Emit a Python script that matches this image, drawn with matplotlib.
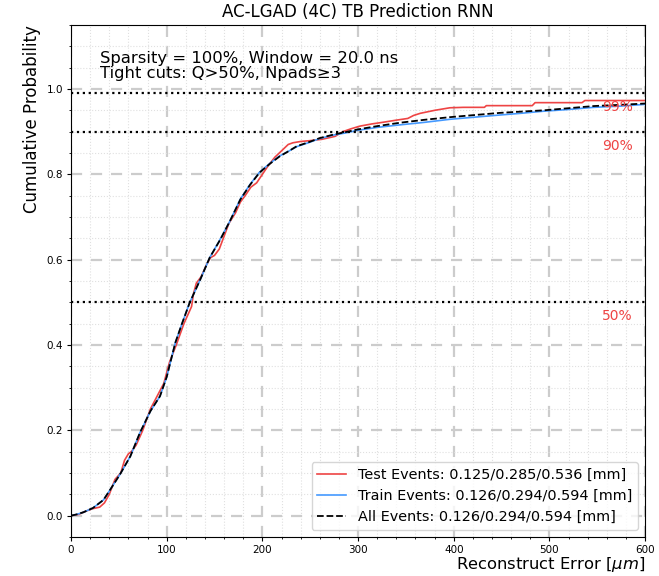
# CDF of reconstruction error, AC-LGAD (4C) test beam, RNN prediction
import matplotlib
matplotlib.use('Agg')
import matplotlib.pyplot as plt
import numpy as np

# Values (error in um, cumulative probability)
all_x = [0, 6, 13, 23, 34, 41, 51, 62, 72, 83, 93, 100, 109, 116, 124, 135, 145, 156, 166,
         177, 187, 197, 208, 218, 228, 236, 248, 260, 274, 287, 299, 320, 344, 370, 396, 427,
         448, 470, 494, 520, 546, 575, 600]
all_y = [0, 0.003, 0.008, 0.018, 0.037, 0.061, 0.096, 0.139, 0.194, 0.245, 0.280, 0.325, 0.405,
         0.45, 0.499, 0.553, 0.605, 0.647, 0.69, 0.741, 0.775, 0.804, 0.825, 0.842, 0.855, 0.866,
         0.875, 0.885, 0.893, 0.899, 0.905, 0.913, 0.921, 0.928, 0.934, 0.940, 0.944, 0.947,
         0.950, 0.955, 0.960, 0.963, 0.966]

train_x = all_x
train_y = [0, 0.003, 0.008, 0.018, 0.037, 0.061, 0.096, 0.139, 0.194, 0.245, 0.280, 0.325, 0.405,
           0.45, 0.499, 0.553, 0.605, 0.648, 0.69, 0.742, 0.776, 0.805, 0.826, 0.843, 0.855, 0.865,
           0.874, 0.884, 0.892, 0.897, 0.903, 0.910, 0.916, 0.922, 0.929, 0.935, 0.939, 0.943,
           0.948, 0.952, 0.957, 0.960, 0.964]

test_x = [0, 8, 15, 22, 30, 35, 40, 46, 52, 56, 60, 63, 68, 75, 83, 90, 97, 103, 110, 118, 126,
          128, 131, 136, 142, 146, 150, 155, 160, 165, 172, 177, 182, 188, 194, 200, 206, 213, 220,
          227, 232, 240, 250, 262, 272, 276, 284, 293, 302, 314, 326, 340, 352, 358, 365, 380, 396,
          410, 432, 434, 482, 485, 534, 537, 600]
test_y = [0, 0.003, 0.01, 0.016, 0.02, 0.03, 0.05, 0.085, 0.1, 0.13, 0.145, 0.15, 0.165, 0.2,
          0.25, 0.28, 0.31, 0.36, 0.4, 0.45, 0.49, 0.52, 0.545, 0.56, 0.59, 0.605, 0.61, 0.625,
          0.655, 0.685, 0.71, 0.735, 0.75, 0.77, 0.78, 0.80, 0.82, 0.84, 0.855, 0.87, 0.874, 0.877,
          0.879, 0.882, 0.887, 0.889, 0.90, 0.907, 0.913, 0.918, 0.922, 0.927, 0.931, 0.938, 0.943,
          0.950, 0.956, 0.957, 0.957, 0.961, 0.961, 0.968, 0.968, 0.973, 0.973]

labels = ['Test Events: 0.125/0.285/0.536 [mm]',
          'Train Events: 0.126/0.294/0.594 [mm]',
          'All Events: 0.126/0.294/0.594 [mm]']
quantiles = [0.5, 0.9, 0.99]
quantile_labels = ['50%', '90%', '99%']

red = '#ee4444'
blue = '#4499ff'

fig = plt.figure(figsize=(6.59, 5.76), dpi=100)
ax = fig.add_axes([0.1077, 0.0677, 0.8713, 0.8889])

ax.plot(test_x, test_y, color=red, lw=1.2, label=labels[0])
ax.plot(train_x, train_y, color=blue, lw=1.2, label=labels[1])
ax.plot(all_x, all_y, color='k', ls='--', lw=1.3, label=labels[2])

# quantile reference lines
for q, ql in zip(quantiles, quantile_labels):
    ax.axhline(q, color='k', ls=':', lw=1.6)
    ax.text(571, q - 0.033, ql, color=red, fontsize=10, ha='center', va='center')

ax.set_xlim(0, 600)
ax.set_ylim(-0.05, 1.15)
ax.set_xticks(np.arange(0, 601, 100))
ax.set_yticks(np.arange(0, 1.01, 0.2))
ax.set_xticks(np.arange(0, 601, 20), minor=True)
ax.set_yticks(np.arange(-0.05, 1.151, 0.05), minor=True)
ax.tick_params(labelsize=7.5, length=2.8, pad=3)
ax.tick_params(which='minor', length=1.6)

ax.grid(which='major', color='#cccccc', ls=(0, (5, 4)), lw=1.6)
ax.grid(which='minor', color='#e0e0e0', ls=':', lw=0.8)
ax.set_axisbelow(True)

ax.set_title('AC-LGAD (4C) TB Prediction RNN', fontsize=12)
ax.set_xlabel(r'Reconstruct Error [$\mu m$]', fontsize=11.8, loc='right', labelpad=0)
ax.set_ylabel('Cumulative Probability', fontsize=12, loc='top')

ax.text(0.05, 0.95, 'Sparsity = 100%, Window = 20.0 ns\nTight cuts: Q>50%, Npads≥3',
        transform=ax.transAxes, va='top', ha='left', fontsize=11.75, linespacing=1.0)

ax.legend(loc='lower right', fontsize=10.4)

fig.savefig('out.png', dpi=100)
